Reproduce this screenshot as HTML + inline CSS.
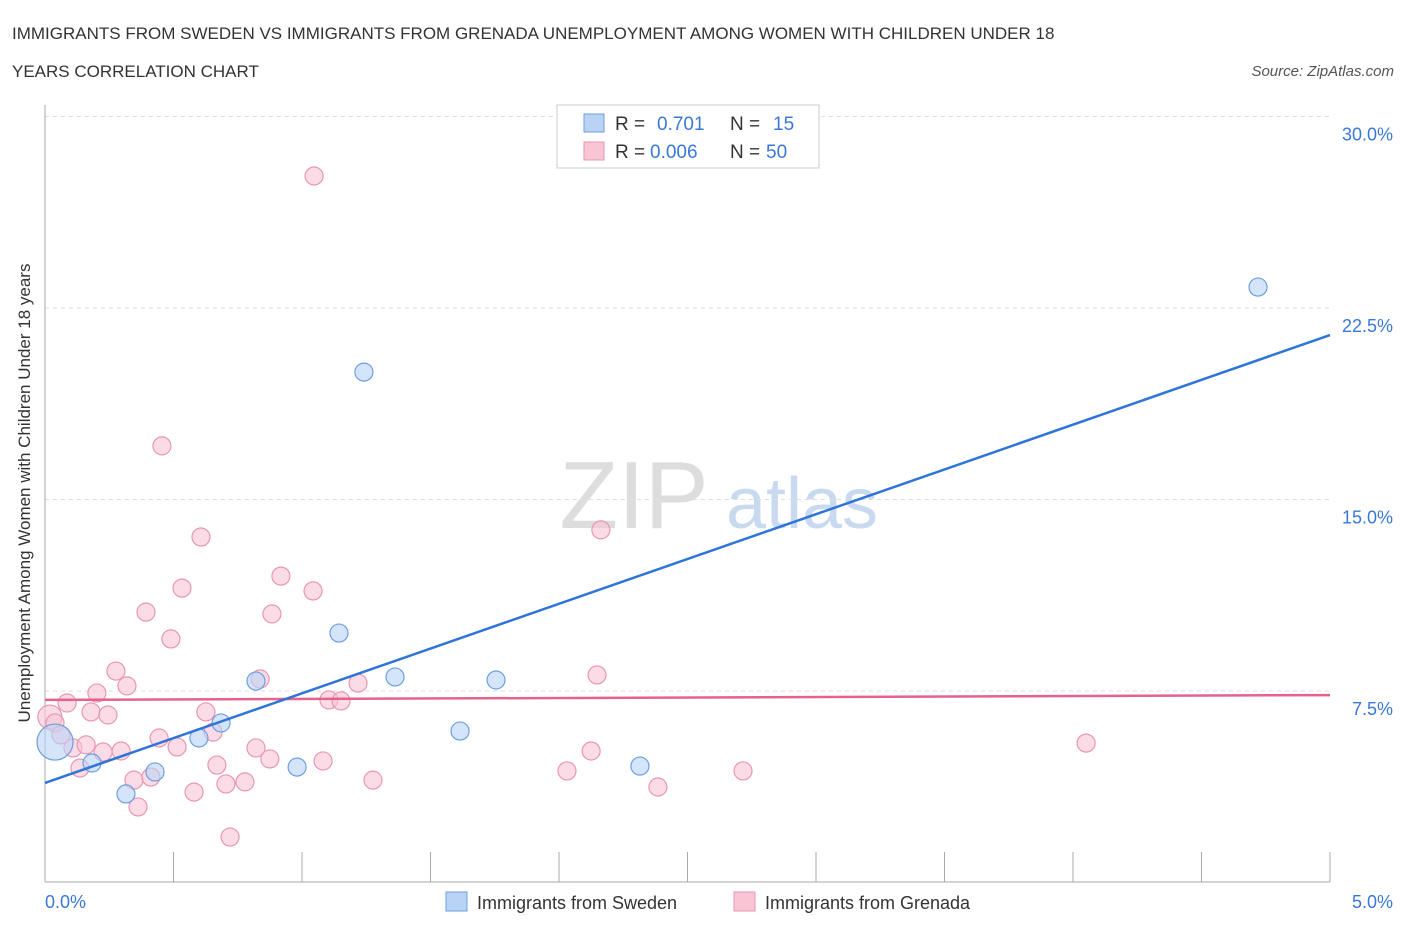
<!DOCTYPE html>
<html><head><meta charset="utf-8"><style>
body{margin:0;background:#fff;font-family:"Liberation Sans",sans-serif;}
svg text{font-family:"Liberation Sans",sans-serif;}
</style></head><body>
<svg width="1406" height="930" xmlns="http://www.w3.org/2000/svg">
<text x="12" y="39" font-size="17" fill="#333">IMMIGRANTS FROM SWEDEN VS IMMIGRANTS FROM GRENADA UNEMPLOYMENT AMONG WOMEN WITH CHILDREN UNDER 18</text>
<text x="12" y="77" font-size="17" fill="#333">YEARS CORRELATION CHART</text>
<text x="1394" y="76" font-size="15" fill="#555" font-style="italic" text-anchor="end">Source: ZipAtlas.com</text>
<text x="634" y="528" font-size="96" fill="#ddd" font-family="Liberation Serif" text-anchor="middle">ZIP</text>
<text x="802" y="528" font-size="72" fill="#c9daf0" text-anchor="middle">atlas</text>
<g id="grid"></g>
<line x1="45" y1="105" x2="45" y2="882" stroke="#aaa"/>
<line x1="45" y1="882" x2="1330" y2="882" stroke="#aaa"/>
<g id="ticks"></g>
<text x="30" y="493" font-size="17" fill="#333" text-anchor="middle" transform="rotate(-90 30 493)">Unemployment Among Women with Children Under 18 years</text>
<text x="45" y="908" font-size="18" fill="#3a78d8">0.0%</text>
<text x="1393" y="908" font-size="18" fill="#3a78d8" text-anchor="end">5.0%</text>
<g id="pts"></g>
<g id="lines"></g>
<g>
<rect x="557" y="105" width="262" height="63" fill="#fff" stroke="#ccc"/>
<rect x="584" y="114" width="20" height="18" fill="#b9d3f5" stroke="#6e9ee0"/>
<rect x="584" y="142" width="20" height="18" fill="#f9c5d5" stroke="#e996b1"/>
<text x="615" y="130" font-size="19" fill="#333">R =</text><text x="657" y="130" font-size="19" fill="#3a78d8">0.701</text>
<text x="730" y="130" font-size="19" fill="#333">N =</text><text x="773" y="130" font-size="19" fill="#3a78d8">15</text>
<text x="615" y="158" font-size="19" fill="#333">R =</text><text x="650" y="158" font-size="19" fill="#3a78d8">0.006</text>
<text x="730" y="158" font-size="19" fill="#333">N =</text><text x="766" y="158" font-size="19" fill="#3a78d8">50</text>
</g>
<g>
<rect x="446" y="892" width="21" height="19" fill="#b9d3f5" stroke="#6e9ee0"/>
<text x="477" y="909" font-size="18" fill="#333">Immigrants from Sweden</text>
<rect x="734" y="892" width="21" height="19" fill="#f9c5d5" stroke="#e996b1"/>
<text x="765" y="909" font-size="18" fill="#333">Immigrants from Grenada</text>
</g>
</svg>
<script>
const yTicks=[7.5,15,22.5,30];
const yTickLabels=["7.5%","15.0%","22.5%","30.0%"];
const xTicks=[0,0.5,1,1.5,2,2.5,3,3.5,4,4.5,5];
const swedenX=[0.039,0.183,0.315,0.428,0.599,0.685,0.821,0.981,1.144,1.241,1.362,1.615,1.755,2.315,4.720];
const swedenY=[5.50,4.68,3.47,4.33,5.66,6.25,7.89,4.52,9.77,19.99,8.05,5.93,7.93,4.56,23.32];
const swedenR=[18,9,9,9,9,9,9,9,9,9,9,9,9,9,9];
const grenadaX=[0.490,0.276,0.319,0.202,0.086,0.019,0.039,0.062,0.179,0.245,0.109,0.160,0.226,0.296,0.136,0.444,0.514,0.626,0.654,0.346,0.412,0.362,0.580,0.669,0.704,0.778,0.720,0.821,0.875,0.837,1.082,1.105,1.152,1.218,1.276,1.047,0.455,0.607,0.533,0.393,0.918,1.043,0.883,2.163,2.148,2.125,2.031,2.385,2.716,4.051];
const grenadaY=[9.54,8.28,7.70,7.42,7.03,6.48,6.25,5.78,6.68,6.56,5.27,5.39,5.11,5.15,4.48,5.66,5.31,6.68,5.89,4.01,4.13,2.96,3.54,4.60,3.86,3.94,1.78,5.27,4.84,7.97,4.76,7.15,7.11,7.81,4.01,27.67,17.10,13.53,11.53,10.59,12.00,11.42,10.52,13.81,8.13,5.15,4.37,3.74,4.37,5.46];
const swedenTrend=[3.90,21.44];
const grenadaTrend=[7.15,7.34];
const NS="http://www.w3.org/2000/svg";
const sx=v=>45+v/5*1285;
const sy=v=>882.5-v/7.5*191.5;
function mk(parent,tag,attrs){const e=document.createElementNS(NS,tag);for(const k in attrs)e.setAttribute(k,attrs[k]);document.getElementById(parent).appendChild(e);return e;}
yTicks.forEach((t,i)=>{
 const l=mk('grid','line',{x1:45,x2:1330,y1:sy(t),y2:sy(t),stroke:'#ddd','stroke-dasharray':'4,4'});
 
 
 const tx=mk('grid','text',{x:1393,y:sy(t)+24,'font-size':18,fill:'#3a78d8','text-anchor':'end'});
 tx.textContent=yTickLabels[i];
 
 
});
xTicks.forEach(t=>{
 const l=mk('ticks','line',{x1:sx(t),x2:sx(t),y1:852,y2:882,stroke:'#aaa'});
 
 
});
grenadaX.forEach((x,i)=>{
 const c=mk('pts','circle',{cx:sx(x),cy:sy(grenadaY[i]),r:i==5?12:9,fill:'#f9c5d5','fill-opacity':0.6,stroke:'#e996b1','stroke-width':1.2});
 
 
});
swedenX.forEach((x,i)=>{
 const c=mk('pts','circle',{cx:sx(x),cy:sy(swedenY[i]),r:swedenR[i],fill:'#b9d3f5','fill-opacity':0.6,stroke:'#6e9ee0','stroke-width':1.2});
 
 
});
const l1=mk('lines','line',{x1:sx(0),y1:sy(grenadaTrend[0]),x2:sx(5),y2:sy(grenadaTrend[1]),stroke:'#e4628c','stroke-width':2.5});


const l2=mk('lines','line',{x1:sx(0),y1:sy(swedenTrend[0]),x2:sx(5),y2:sy(swedenTrend[1]),stroke:'#2f74d8','stroke-width':2.5});


</script>
</body></html>
